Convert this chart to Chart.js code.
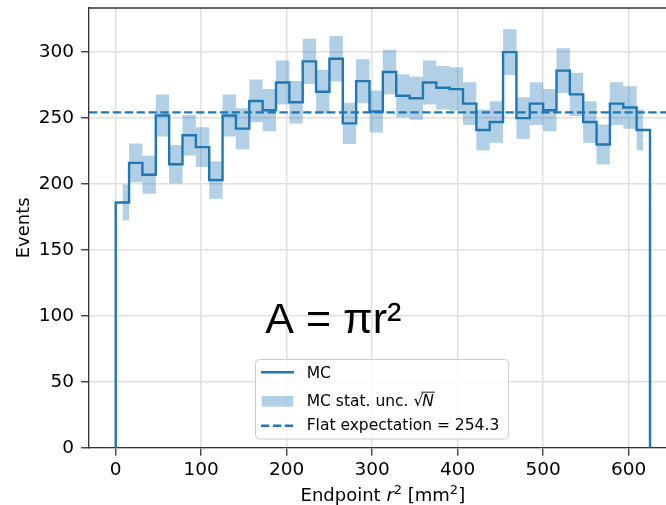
<!DOCTYPE html>
<html lang="en">
<head>
    <meta charset="UTF-8">
    <title>Endpoint r2 distribution</title>
    <script src="https://cdn.jsdelivr.net/npm/chart.js"></script>
    <style>
        html, body { margin: 0; padding: 0; overflow: hidden; background: #fff; }
        #wrap { width: 700px; height: 505px; }
    </style>
</head>
<body>
    <div id="wrap">
        <canvas id="r2Chart"></canvas>
    </div>

    <script>
        // bin edges in r^2 [mm^2] (40 bins, 0 .. 625)
        const binEdges = [0, 15.625, 31.25, 46.875, 62.5, 78.125, 93.75, 109.375, 125, 140.625,
            156.25, 171.875, 187.5, 203.125, 218.75, 234.375, 250, 265.625, 281.25, 296.875,
            312.5, 328.125, 343.75, 359.375, 375, 390.625, 406.25, 421.875, 437.5, 453.125,
            468.75, 484.375, 500, 515.625, 531.25, 546.875, 562.5, 578.125, 593.75, 609.375, 625];
        // MC events per bin
        const mcCounts = [186, 216, 207, 252, 215, 237, 228, 203, 252, 242,
            263, 256, 277, 262, 293, 270, 295, 246, 278, 255,
            285, 267, 265, 277, 273, 272, 261, 241, 247, 300,
            250, 261, 256, 286, 268, 247, 230, 261, 258, 241];
        const flatExpectation = 254.3;
        const xTicks = [0, 100, 200, 300, 400, 500, 600];
        const yTicks = [0, 50, 100, 150, 200, 250, 300];

        const blue = '#1f77b4';
        const bandColor = 'rgba(31,119,180,0.35)';
        const spineColor = '#333333';
        const gridColor = '#e0e0e0';
        const lineW = 2.4;
        const dash = [8.3, 3.6];
        const xMin = -31.25, xMax = 656.25;

        // histogram outline
        const mcPoints = [{x: binEdges[0], y: 0}];
        mcCounts.forEach((c, i) => {
            mcPoints.push({x: binEdges[i], y: c});
            mcPoints.push({x: binEdges[i + 1], y: c});
        });
        mcPoints.push({x: binEdges[binEdges.length - 1], y: 0});

        // sqrt(N) band, drawn step-mid like fill_between on bin centres
        const hiPoints = [], loPoints = [];
        const last = mcCounts.length - 1;
        mcCounts.forEach((c, i) => {
            const xl = i === 0 ? (binEdges[0] + binEdges[1]) / 2 : binEdges[i];
            const xr = i === last ? (binEdges[last] + binEdges[last + 1]) / 2 : binEdges[i + 1];
            const e = Math.sqrt(c);
            hiPoints.push({x: xl, y: c + e}, {x: xr, y: c + e});
            loPoints.push({x: xl, y: c - e}, {x: xr, y: c - e});
        });

        const annotate = {
            id: 'annotate',
            afterDraw(chart) {
                const ctx = chart.ctx;
                const a = chart.chartArea;
                const xs = chart.scales.x, ys = chart.scales.y;
                ctx.save();

                // top spine
                ctx.strokeStyle = spineColor;
                ctx.lineWidth = 1.3;
                ctx.beginPath();
                ctx.moveTo(a.left, a.top);
                ctx.lineTo(a.right, a.top);
                ctx.stroke();

                // big formula
                ctx.fillStyle = '#000';
                ctx.textAlign = 'left';
                ctx.textBaseline = 'alphabetic';
                ctx.font = '43px "Liberation Sans"';
                ctx.fillText('A = πr²', xs.getPixelForValue(175), ys.getPixelForValue(87));

                // x axis title with italic r
                const parts = [
                    ['Endpoint ', '18px "DejaVu Sans"', 0],
                    ['r', 'italic 18px "DejaVu Sans"', 0],
                    ['2', '13px "DejaVu Sans"', -7],
                    [' [mm', '18px "DejaVu Sans"', 0],
                    ['2', '13px "DejaVu Sans"', -7],
                    [']', '18px "DejaVu Sans"', 0]
                ];
                let total = 0;
                parts.forEach(p => { ctx.font = p[1]; total += ctx.measureText(p[0]).width; });
                let px = (a.left + a.right) / 2 - total / 2;
                parts.forEach(p => {
                    ctx.font = p[1];
                    ctx.fillText(p[0], px, 501 + p[2]);
                    px += ctx.measureText(p[0]).width;
                });

                // legend
                ctx.fillStyle = 'rgba(255,255,255,0.8)';
                ctx.strokeStyle = '#cccccc';
                ctx.lineWidth = 1;
                ctx.beginPath();
                ctx.roundRect(255.5, 359.5, 253, 79.5, 4);
                ctx.fill();
                ctx.stroke();

                ctx.strokeStyle = blue;
                ctx.lineWidth = lineW;
                ctx.beginPath();
                ctx.moveTo(261, 372.3);
                ctx.lineTo(294, 372.3);
                ctx.stroke();

                ctx.fillStyle = bandColor;
                ctx.fillRect(261.7, 396, 31.6, 10.7);

                ctx.setLineDash(dash);
                ctx.beginPath();
                ctx.moveTo(261, 425.7);
                ctx.lineTo(294, 425.7);
                ctx.stroke();
                ctx.setLineDash([]);

                ctx.fillStyle = '#000';
                ctx.font = '15.5px "DejaVu Sans"';
                ctx.fillText('MC', 306.7, 377.7);
                const t2 = 'MC stat. unc. ';
                ctx.fillText(t2, 306.7, 405.5);
                let sx = 306.7 + ctx.measureText(t2).width;
                ctx.fillText('√', sx, 405.5);
                sx += ctx.measureText('√').width - 1;
                ctx.font = 'italic 15.5px "DejaVu Sans"';
                const nw = ctx.measureText('N').width;
                ctx.fillText('N', sx, 405.5);
                ctx.strokeStyle = '#000';
                ctx.lineWidth = 0.9;
                ctx.beginPath();
                ctx.moveTo(sx - 1, 392.2);
                ctx.lineTo(sx + nw + 1, 392.2);
                ctx.stroke();
                ctx.font = '15.5px "DejaVu Sans"';
                ctx.fillText('Flat expectation = ' + flatExpectation.toFixed(1), 306.7, 430);

                ctx.restore();
            }
        };

        const tickFont = {family: 'DejaVu Sans', size: 18.5};
        const noPad = s => { s.paddingTop = 0; s.paddingBottom = 0; s.paddingLeft = 0; s.paddingRight = 0; };

        new Chart(document.getElementById('r2Chart').getContext('2d'), {
            type: 'line',
            data: {
                datasets: [
                    {
                        label: 'MC',
                        data: mcPoints,
                        borderColor: blue,
                        borderWidth: lineW,
                        pointRadius: 0,
                        fill: false,
                        order: 0
                    },
                    {
                        label: 'MC stat. unc.',
                        data: hiPoints,
                        borderWidth: 0,
                        borderColor: 'rgba(0,0,0,0)',
                        backgroundColor: bandColor,
                        pointRadius: 0,
                        fill: '+1',
                        order: 2
                    },
                    {
                        label: 'band low',
                        data: loPoints,
                        borderWidth: 0,
                        borderColor: 'rgba(0,0,0,0)',
                        pointRadius: 0,
                        fill: false,
                        order: 2
                    },
                    {
                        label: 'Flat expectation',
                        data: [{x: xMin, y: flatExpectation}, {x: xMax, y: flatExpectation}],
                        borderColor: blue,
                        borderWidth: lineW,
                        borderDash: dash,
                        pointRadius: 0,
                        fill: false,
                        order: 1
                    }
                ]
            },
            options: {
                responsive: true,
                maintainAspectRatio: false,
                animation: false,
                events: [],
                layout: {padding: {left: 0, top: 8, right: 23.3, bottom: 0}},
                plugins: {
                    legend: {display: false},
                    tooltip: {enabled: false}
                },
                scales: {
                    x: {
                        type: 'linear',
                        min: xMin,
                        max: xMax,
                        afterBuildTicks: s => { s.ticks = xTicks.map(v => ({value: v})); },
                        afterFit: s => { s.height = 57.3; noPad(s); },
                        ticks: {font: tickFont, color: '#000', padding: 3, maxRotation: 0, autoSkip: false},
                        grid: {color: gridColor, lineWidth: 1.5, tickLength: 8, tickColor: spineColor, tickWidth: 1.3},
                        border: {color: spineColor, width: 1.3}
                    },
                    y: {
                        min: 0,
                        max: 333.5,
                        afterBuildTicks: s => { s.ticks = yTicks.map(v => ({value: v})); },
                        afterFit: s => { s.width = 89; noPad(s); },
                        ticks: {font: tickFont, color: '#000', padding: 7},
                        grid: {color: gridColor, lineWidth: 1.5, tickLength: 8, tickColor: spineColor, tickWidth: 1.3},
                        border: {color: spineColor, width: 1.3},
                        title: {
                            display: true,
                            text: 'Events',
                            color: '#000',
                            font: {family: 'DejaVu Sans', size: 18},
                            padding: {top: 13.7, bottom: 0}
                        }
                    }
                }
            },
            plugins: [annotate]
        });
    </script>
</body>
</html>
